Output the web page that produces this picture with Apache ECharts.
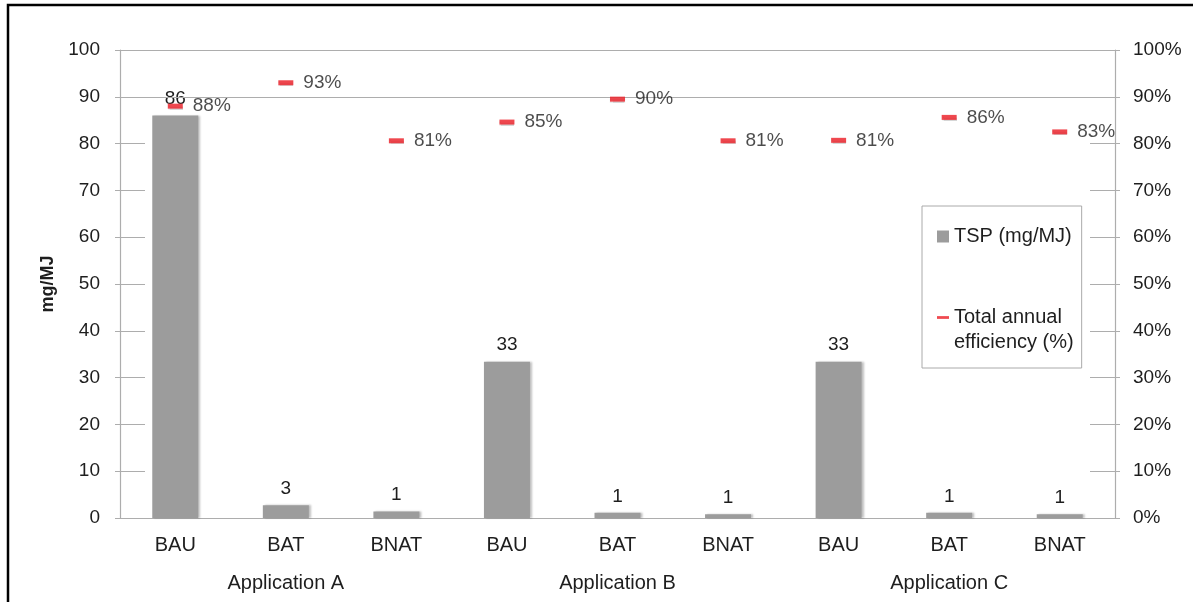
<!DOCTYPE html>
<html>
<head>
<meta charset="utf-8">
<title>TSP and efficiency</title>
<script src="https://cdn.jsdelivr.net/npm/echarts@6/dist/echarts.min.js"></script>
<style>
  html, body { margin: 0; padding: 0; background: #fff; }
  #chart { width: 1203px; height: 602px; }
</style>
</head>
<body>
<div id="chart"></div>
<script>
// categories
var techs = ['BAU', 'BAT', 'BNAT', 'BAU', 'BAT', 'BNAT', 'BAU', 'BAT', 'BNAT'];
var apps = ['Application A', 'Application B', 'Application C'];
// TSP (mg/MJ)
var tspValues = [86, 2.7, 1.4, 33.4, 1.1, 0.8, 33.4, 1.1, 0.8];
// total annual efficiency (%)
var effValues = [88, 93, 80.6, 84.6, 89.5, 80.6, 80.7, 85.6, 82.5];
// ticks
var leftTicks = { min: 0, max: 100, interval: 10 };
var rightTicks = { min: 0, max: 100, interval: 10 };

var chart = echarts.init(document.getElementById('chart'));

var FONT = 'Liberation Sans, Arial, sans-serif';
var FS = 19;
var FS_CAT = 20;
var TXT = '#1e1e1e';
var AX = '#adadad';
var GRID = { left: 120, right: 88, top: 50, bottom: 84 };

var option = {
  animation: false,
  textStyle: { fontFamily: FONT },
  grid: [
    Object.assign({ containLabel: false }, GRID),
    Object.assign({ containLabel: false }, GRID)
  ],
  legend: {
    orient: 'vertical',
    left: 922,
    top: 206,
    padding: [18, 8, 13, 15],
    itemGap: 31,
    itemWidth: 12,
    itemHeight: 12,
    itemTextGap: 5,
    borderColor: '#aaa',
    borderWidth: 1,
    textStyle: { fontSize: FS_CAT, color: TXT, fontFamily: FONT, lineHeight: 25 },
    data: [
      { name: 'TSP (mg/MJ)', icon: 'rect' },
      { name: 'Total annual efficiency (%)', icon: 'path://M0,0H13V3H0Z' }
    ],
    formatter: function (name) {
      if (name === 'Total annual efficiency (%)') {
        return ' \nTotal annual\nefficiency (%)';
      }
      return name;
    }
  },
  xAxis: [
    {
      type: 'category',
      gridIndex: 0,
      data: techs,
      axisLine: { lineStyle: { color: AX, width: 1.2 } },
      axisTick: { length: 37, lineStyle: { color: AX } },
      axisLabel: { margin: 17, fontSize: FS_CAT, color: TXT, fontFamily: FONT }
    },
    {
      type: 'category',
      gridIndex: 1,
      data: apps,
      axisLine: { show: false },
      axisTick: { length: 79, lineStyle: { color: AX } },
      axisLabel: { margin: 55, fontSize: FS_CAT, color: TXT, fontFamily: FONT }
    }
  ],
  yAxis: [
    {
      type: 'value',
      gridIndex: 0,
      position: 'left',
      min: leftTicks.min,
      max: leftTicks.max,
      interval: leftTicks.interval,
      name: 'mg/MJ',
      nameLocation: 'middle',
      nameGap: 56,
      nameTextStyle: { fontSize: 18, fontWeight: 'bold', color: TXT, fontFamily: FONT },
      axisLine: { show: true, lineStyle: { color: AX, width: 1.2 } },
      axisTick: { show: true, length: 5, lineStyle: { color: AX } },
      axisLabel: { margin: 20, fontSize: FS, color: TXT, fontFamily: FONT },
      splitLine: { show: false }
    },
    {
      type: 'value',
      gridIndex: 0,
      position: 'right',
      min: rightTicks.min,
      max: rightTicks.max,
      interval: rightTicks.interval,
      axisLine: { show: true, lineStyle: { color: AX, width: 1.2 } },
      axisTick: { show: true, length: 5, lineStyle: { color: AX } },
      axisLabel: {
        margin: 18, fontSize: FS, color: TXT, fontFamily: FONT,
        formatter: function (v) { return v + '%'; }
      },
      splitLine: { show: false }
    },
    // inner halves of the crossing tick marks
    {
      type: 'value',
      gridIndex: 1,
      position: 'left',
      min: leftTicks.min,
      max: leftTicks.max,
      interval: leftTicks.interval,
      axisLine: { show: false },
      axisTick: { show: true, inside: true, length: 25, lineStyle: { color: AX } },
      axisLabel: { show: false },
      splitLine: { show: false }
    },
    {
      type: 'value',
      gridIndex: 1,
      position: 'right',
      min: rightTicks.min,
      max: rightTicks.max,
      interval: rightTicks.interval,
      axisLine: { show: false },
      axisTick: { show: true, inside: true, length: 25, lineStyle: { color: AX } },
      axisLabel: { show: false },
      splitLine: { show: false }
    }
  ],
  series: [
    {
      name: 'TSP (mg/MJ)',
      type: 'bar',
      xAxisIndex: 0,
      yAxisIndex: 0,
      data: tspValues,
      barWidth: 46,
      itemStyle: {
        color: '#9c9c9c',
        shadowColor: 'rgba(0,0,0,0.25)',
        shadowBlur: 2,
        shadowOffsetX: 2,
        shadowOffsetY: 0
      },
      label: {
        show: true,
        position: 'top',
        distance: 7,
        fontSize: FS,
        color: TXT,
        fontFamily: FONT,
        formatter: function (p) { return Math.round(p.value); }
      },
      markLine: {
        silent: true,
        symbol: 'none',
        label: { show: false },
        lineStyle: { color: AX, width: 1.2, type: 'solid' },
        data: [{ yAxis: 90 }, { yAxis: 100 }]
      },
      z: 2
    },
    {
      name: 'Total annual efficiency (%)',
      type: 'scatter',
      xAxisIndex: 0,
      yAxisIndex: 1,
      data: effValues,
      symbol: 'rect',
      symbolSize: [15, 5],
      itemStyle: {
        color: '#ec1c24',
        shadowColor: 'rgba(0,0,0,0.2)',
        shadowBlur: 1,
        shadowOffsetY: 1
      },
      label: {
        show: true,
        position: 'right',
        distance: 10,
        fontSize: FS,
        color: TXT,
        fontFamily: FONT,
        formatter: function (p) { return Math.round(p.value) + '%'; }
      },
      z: 5
    }
  ],
  graphic: [
    {
      type: 'polyline',
      silent: true,
      shape: { points: [[8, 602], [8, 5], [1193, 5]] },
      style: { stroke: '#000', lineWidth: 2.5, fill: null }
    }
  ]
};

chart.setOption(option);
</script>
</body>
</html>
